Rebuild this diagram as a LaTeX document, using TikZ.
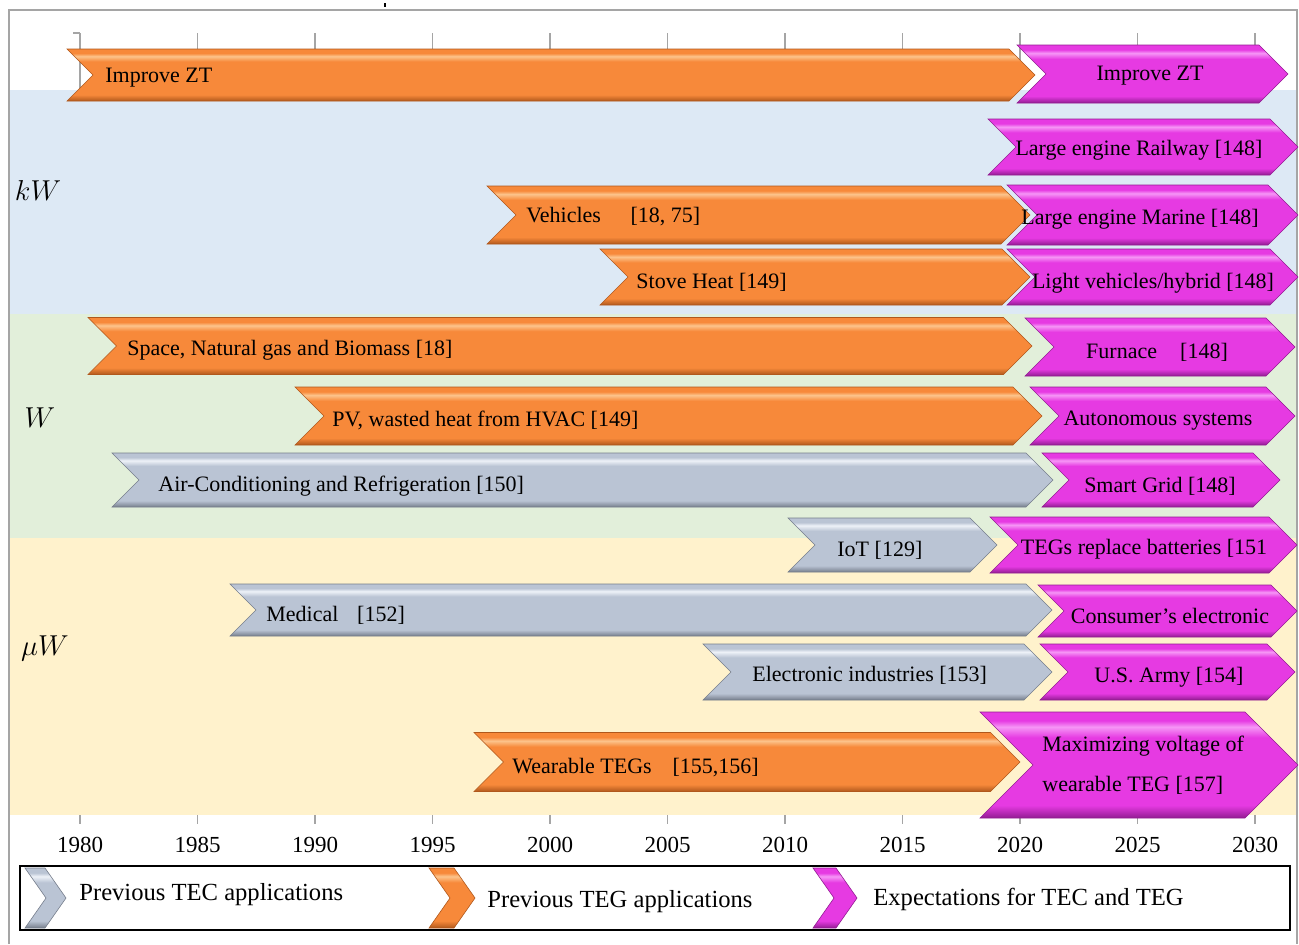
\documentclass[tikz,border=0pt]{standalone}
\usepackage{fontspec}
\setmainfont{Liberation Serif}
\usepackage{tikz}

% colours of the three kinds of bars and of the bands
\definecolor{tegorange}{RGB}{247,137,58}
\definecolor{teglight}{RGB}{252,196,140}
\definecolor{tegdark}{RGB}{176,88,28}
\definecolor{tecgray}{RGB}{186,196,212}
\definecolor{teclight}{RGB}{238,242,248}
\definecolor{tecdark}{RGB}{118,126,140}
\definecolor{expmag}{RGB}{230,58,226}
\definecolor{explight}{RGB}{246,150,246}
\definecolor{expdark}{RGB}{146,28,146}
\definecolor{bandkw}{RGB}{221,233,245}
\definecolor{bandw}{RGB}{226,239,218}
\definecolor{bandmw}{RGB}{255,242,204}
\definecolor{framegray}{RGB}{165,165,165}

\pgfdeclareverticalshading{tegshade}{100bp}{color(0bp)=(tegdark); color(25bp)=(tegdark);
  color(31bp)=(tegorange); color(63bp)=(tegorange); color(68bp)=(teglight);
  color(71bp)=(tegorange); color(100bp)=(tegorange)}
\pgfdeclareverticalshading{tecshade}{100bp}{color(0bp)=(tecdark); color(25bp)=(tecdark);
  color(31bp)=(tecgray); color(63bp)=(tecgray); color(68bp)=(teclight);
  color(71bp)=(tecgray); color(100bp)=(tecgray)}
\pgfdeclareverticalshading{expshade}{100bp}{color(0bp)=(expdark); color(25bp)=(expdark);
  color(31bp)=(expmag); color(63bp)=(expmag); color(68bp)=(explight);
  color(71bp)=(expmag); color(100bp)=(expmag)}

\tikzset{
	%Define styles for the bars
	tegbar/.style={shade, shading=tegshade, draw=tegdark, line width=0.3pt},
	tecbar/.style={shade, shading=tecshade, draw=tecdark, line width=0.3pt},
	expbar/.style={shade, shading=expshade, draw=expdark, line width=0.3pt},
	bartxt/.style={inner sep=0pt, font=\fontsize{11}{13}\selectfont},
	legtxt/.style={inner sep=0pt, anchor=west, font=\fontsize{12.3}{14}\selectfont},
	yearlbl/.style={inner sep=0pt, font=\fontsize{11.5}{13}\selectfont},
	bandlbl/.style={inner sep=0pt, font=\fontsize{14}{16}\selectfont},
	axtick/.style={draw=framegray, line width=0.6pt}
}

% chevron: [point ratio]{style}{left x}{right x}{middle y}{half height}
\newcommand{\chev}[6][1]{%
  \path[#2] (#3,{#5-#6}) -- ({#4-#1*#6},{#5-#6}) -- (#4,#5)
    -- ({#4-#1*#6},{#5+#6}) -- (#3,{#5+#6}) -- ({#3+#1*#6},#5) -- cycle;}

\begin{document}
\begin{tikzpicture}[x=0.5pt, y=-0.5pt]
	\useasboundingbox (0,0) rectangle (1299,944);
	% bands
	\fill[bandkw] (10,90) rectangle (1297,314);
	\fill[bandw] (10,314) rectangle (1297,538);
	\fill[bandmw] (10,538) rectangle (1297,815);
	\draw[framegray, line width=1pt] (9,944) -- (9,10) -- (1297,10) -- (1297,944);
	\draw[line width=0.6pt] (385,3) -- (385,7);
	% axis
	\draw[axtick] (73,33) -- (80,33);
	\foreach \yr in {1980,1985,...,2030} {
		\draw[axtick] ({80+(\yr-1980)*23.5},33) -- ++(0,57);
		\draw[axtick] ({80+(\yr-1980)*23.5},815) -- ++(0,9);
		\node[yearlbl] (y\yr) at ({80+(\yr-1980)*23.5},845) {\yr};
	}
	\node[bandlbl] (kw) at (38,190) {$kW$};
	\node[bandlbl] (w) at (40,418) {$W$};
	\node[bandlbl] (uw) at (45,648) {$\mu W$};

	% previous applications
	\chev{tegbar}{67}{1035}{75}{26}
	\chev{tegbar}{487}{1030}{215}{29}
	\chev{tegbar}{600}{1030}{277}{28}
	\chev{tegbar}{88}{1032}{346}{28.5}
	\chev{tegbar}{295}{1042}{416}{29}
	\chev{tecbar}{112}{1053}{480}{27}
	\chev{tecbar}{788}{997}{545}{27}
	\chev{tecbar}{230}{1052}{610}{26}
	\chev{tecbar}{703}{1052}{672}{28}
	\chev{tegbar}{474}{1020}{762}{29.5}
	% expectations
	\chev{expbar}{1017}{1288}{74}{29}
	\chev{expbar}{988}{1298}{147}{28}
	\chev{expbar}{1007}{1298}{215}{30}
	\chev{expbar}{1007}{1298}{277}{28}
	\chev{expbar}{1025}{1295}{347}{29}
	\chev{expbar}{1030}{1295}{416}{29}
	\chev{expbar}{1042}{1280}{480}{27}
	\chev{expbar}{990}{1297}{545}{28}
	\chev{expbar}{1038}{1297}{611}{26}
	\chev{expbar}{1040}{1295}{672}{28}
	\chev{expbar}{980}{1298}{765}{53}

	\node[bartxt, anchor=west] (ztold) at (105,78) {Improve ZT};
	\node[bartxt, anchor=west] (vehicles) at (526,217) {Vehicles\hspace{1.1em} [18, 75]};
	\node[bartxt, anchor=west] (stove) at (636,282) {Stove Heat [149]};
	\node[bartxt, anchor=west] (space) at (127,350) {Space, Natural gas and Biomass [18]};
	\node[bartxt, anchor=west] (pv) at (332,420) {PV, wasted heat from HVAC [149]};
	\node[bartxt, anchor=west] (aircon) at (158,486) {Air-Conditioning and Refrigeration [150]};
	\node[bartxt, anchor=west] (iot) at (837,550) {IoT [129]};
	\node[bartxt, anchor=west] (medical) at (266,615) {Medical\hspace{0.6em} [152]};
	\node[bartxt, anchor=west] (elecind) at (752,675) {Electronic industries [153]};
	\node[bartxt, anchor=west] (wearable) at (512,768) {Wearable TEGs\hspace{0.7em} [155,156]};

	\node[bartxt] (ztnew) at (1150,76) {Improve ZT};
	\node[bartxt] (railway) at (1139,150) {Large engine Railway [148]};
	\node[bartxt] (marine) at (1140,219) {Large engine Marine [148]};
	\node[bartxt] (hybrid) at (1153,283) {Light vehicles/hybrid [148]};
	\node[bartxt] (furnace) at (1157,352) {Furnace\hspace{0.8em} [148]};
	\node[bartxt] (autonomous) at (1158,421) {Autonomous systems};
	\node[bartxt] (smartgrid) at (1160,486) {Smart Grid [148]};
	\node[bartxt] (batteries) at (1144,549) {TEGs replace batteries [151};
	\node[bartxt] (consumer) at (1170,616) {Consumer’s electronic};
	\node[bartxt] (army) at (1169,677) {U.S. Army [154]};
	\node[bartxt, anchor=west, align=left, font=\fontsize{11}{20}\selectfont] (maxvolt) at (1042,765)
		{Maximizing voltage of\\wearable TEG [157]};

	% legend
	\draw[line width=0.8pt] (20,866) rectangle (1290,930);
	\chev[0.7]{tecbar}{25}{66}{898}{30}
	\chev[0.7]{tegbar}{429}{475}{898}{30}
	\chev[0.7]{expbar}{813}{857}{898}{30}
	\node[legtxt] (legtec) at (79,895) {Previous TEC applications};
	\node[legtxt] (legteg) at (487,902) {Previous TEG applications};
	\node[legtxt] (legexp) at (873,899) {Expectations for TEC and TEG};
\end{tikzpicture}
\end{document}
